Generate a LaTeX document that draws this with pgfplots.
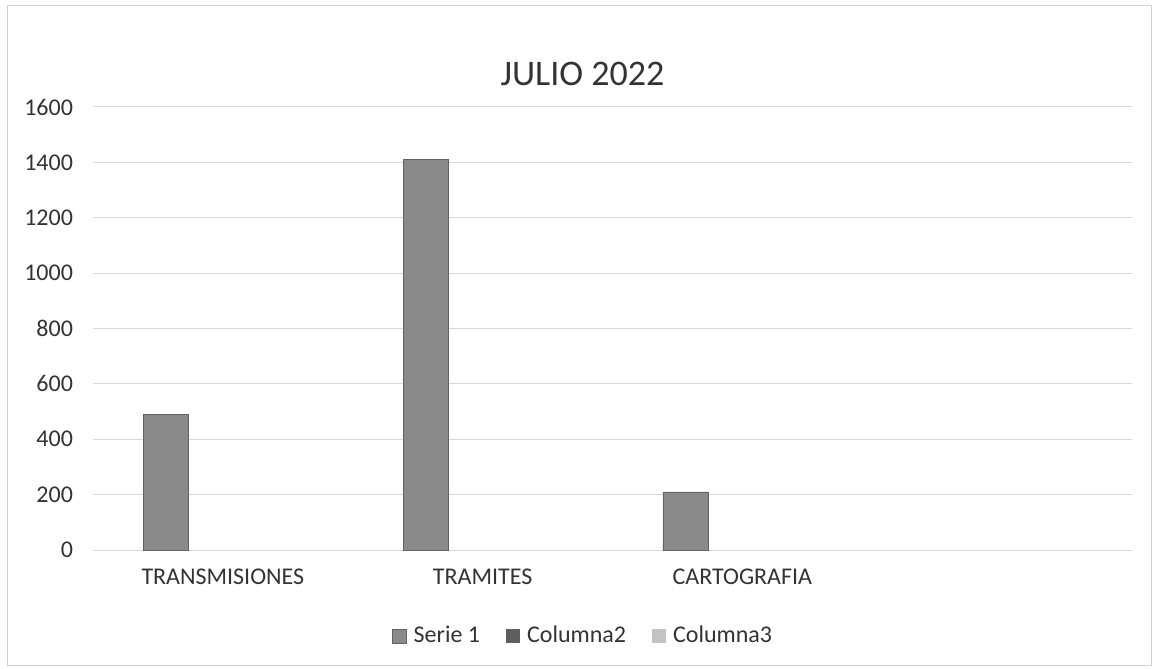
\documentclass[border=0pt]{standalone}
\usepackage{fontspec}
\setmainfont{Carlito}
\usepackage{pgfplots}
\pgfplotsset{compat=1.18}

\definecolor{serieA}{RGB}{138,138,138}
\definecolor{serieB}{RGB}{95,95,95}
\definecolor{serieC}{RGB}{195,195,195}
\definecolor{gridc}{RGB}{215,215,215}

\begin{document}
\begin{tikzpicture}
\begin{axis}[
    scale only axis,
    width=519.5pt, height=221.5pt,
    xmin=-0.5, xmax=3.5,
    ymin=0, ymax=1600,
    ytick={0,200,...,1600},
    xtick={0,1,2},
    xticklabels={TRANSMISIONES,TRAMITES,CARTOGRAFIA},
    axis x line*=bottom,
    axis y line*=left,
    x axis line style={gridc, -},
    y axis line style={draw=none},
    ymajorgrids,
    grid style={gridc, line width=0.5pt},
    major tick length=0pt,
    tick label style={font=\fontsize{12}{14}\selectfont, text=black!80},
    /pgf/number format/assume math mode=true,
    /pgf/number format/1000 sep={},
    yticklabel style={xshift=-6.5pt},
    xticklabel style={yshift=-6pt},
    ybar, bar width=22.5pt,
    title={JULIO 2022},
    title style={font=\fontsize{18}{21}\selectfont, text=black!80, yshift=1pt, xshift=-15pt},
    legend style={at={(0.4727,-0.194)}, anchor=center, draw=none, legend columns=3,
        font=\fontsize{12}{14}\selectfont, text=black!80,
        /tikz/every even column/.append style={column sep=11pt},
        /tikz/every odd column/.append style={column sep=1.5pt}},
    legend image code/.code={\fill[#1] (0pt,-3.5pt) rectangle (7pt,3.5pt);},
    clip=false,
]
\addplot[fill=serieA, draw=serieA!70!black, line width=0.3pt, bar shift=-28.5pt]
    coordinates {(0,490) (1,1410) (2,210)};
\addlegendentry{Serie 1}
\addlegendimage{fill=serieB, draw=none}
\addlegendentry{Columna2}
\addlegendimage{fill=serieC, draw=none}
\addlegendentry{Columna3}

\draw[gray!35, line width=0.5pt] (rel axis cs:-0.0818,-0.2604) rectangle (rel axis cs:1.0183,1.2302);
\path (rel axis cs:-0.0895,-0.2686) rectangle (rel axis cs:1.0231,1.2415);
\end{axis}
\end{tikzpicture}
\end{document}
